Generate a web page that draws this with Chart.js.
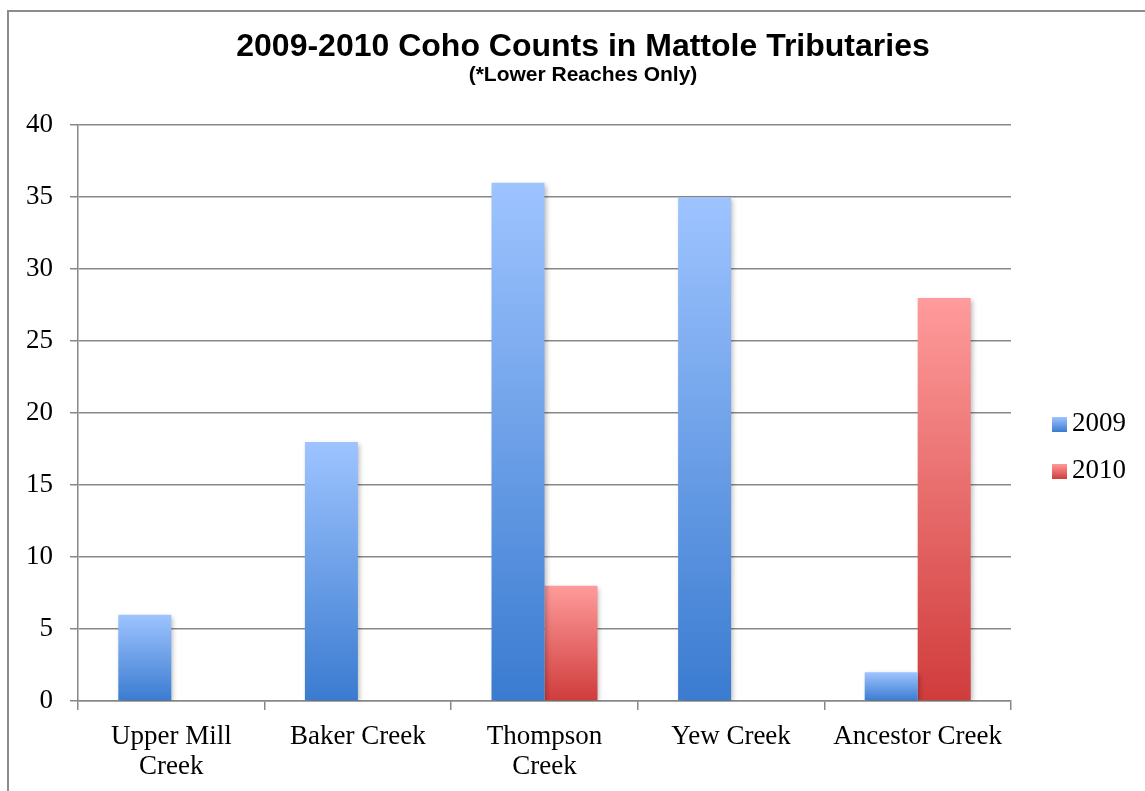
<!DOCTYPE html>
<html>
<head>
<meta charset="utf-8">
<script src="https://cdn.jsdelivr.net/npm/chart.js@4.4.1/dist/chart.umd.min.js"></script>
<style>
  html, body { margin: 0; padding: 0; background: #fff; overflow: hidden; }
  #wrap { position: relative; width: 1145px; height: 791px; overflow: hidden; }
  #frame { position: absolute; left: 7px; top: 10px; width: 1300px; height: 900px; border: 2px solid #8c8c8c; box-sizing: border-box; }
  #box { position: absolute; left: 0; top: 0; width: 1166px; height: 791px; }
</style>
</head>
<body>
<div id="wrap">
  <div id="frame"></div>
  <div id="box"><canvas id="cohoChart"></canvas></div>
</div>
<script>
// creeks and counts
const creeks = [['Upper Mill', 'Creek'], 'Baker Creek', ['Thompson', 'Creek'], 'Yew Creek', 'Ancestor Creek'];
const counts2009 = [6, 18, 36, 35, 2];
const counts2010 = [0, 0, 8, 0, 28];
const seriesNames = ['2009', '2010'];

const blueTop = '#9ec4ff', blueBottom = '#3a7bd0';
const redTop = '#ff9b9b', redBottom = '#d03c3c';

// vertical gradient for every bar, from its top down to zero
function barGradient(top, bottom) {
    return function (ctx) {
        const chart = ctx.chart;
        const y = chart.scales.y;
        if (!y || ctx.type !== 'data') return bottom;
        const y0 = y.getPixelForValue(ctx.raw);
        const y1 = y.getPixelForValue(0);
        if (!isFinite(y0) || !isFinite(y1) || y0 === y1) return bottom;
        const g = chart.ctx.createLinearGradient(0, y0, 0, y1);
        g.addColorStop(0, top);
        g.addColorStop(1, bottom);
        return g;
    };
}

// soft shadow behind the bars
const barShadow = {
    id: 'barShadow',
    beforeDatasetsDraw(chart) {
        const c = chart.ctx;
        c.save();
        c.shadowColor = 'rgba(0,0,0,0.28)';
        c.shadowBlur = 5;
        c.shadowOffsetX = 2;
        c.shadowOffsetY = 2;
    },
    afterDatasetsDraw(chart) {
        chart.ctx.restore();
    }
};

// legend on the right side
const sideLegend = {
    id: 'sideLegend',
    afterDraw(chart) {
        const c = chart.ctx;
        const cols = [[blueTop, blueBottom], [redTop, redBottom]];
        c.save();
        c.font = '27px "Liberation Serif", serif';
        c.textBaseline = 'middle';
        seriesNames.forEach((name, i) => {
            const bx = 1052, by = 417 + i * 47;
            const g = c.createLinearGradient(0, by, 0, by + 15);
            g.addColorStop(0, cols[i][0]);
            g.addColorStop(1, cols[i][1]);
            c.fillStyle = g;
            c.fillRect(bx, by, 15, 15);
            c.fillStyle = '#000';
            c.fillText(name, bx + 20, by + 7);
        });
        c.restore();
    }
};

const ctx = document.getElementById('cohoChart').getContext('2d');
new Chart(ctx, {
    type: 'bar',
    data: {
        labels: creeks,
        datasets: [
            { label: seriesNames[0], data: counts2009, backgroundColor: barGradient(blueTop, blueBottom), borderWidth: 0 },
            { label: seriesNames[1], data: counts2010, backgroundColor: barGradient(redTop, redBottom), borderWidth: 0 }
        ]
    },
    options: {
        responsive: true,
        maintainAspectRatio: false,
        animation: false,
        datasets: { bar: { categoryPercentage: 0.568, barPercentage: 1.0 } },
        layout: { padding: 0 },
        plugins: {
            legend: { display: false },
            tooltip: { enabled: false },
            title: {
                display: true,
                text: '2009-2010 Coho Counts in Mattole Tributaries',
                color: '#000',
                font: { family: '"Liberation Sans", Arial, sans-serif', size: 32, weight: 'bold', lineHeight: 1.1 },
                padding: { top: 30, bottom: 0 }
            },
            subtitle: {
                display: true,
                text: '(*Lower Reaches Only)',
                color: '#000',
                font: { family: '"Liberation Sans", Arial, sans-serif', size: 21, weight: 'bold', lineHeight: 1.0 },
                padding: { top: 0, bottom: 39 }
            }
        },
        scales: {
            x: {
                grid: { display: true, drawOnChartArea: false, drawTicks: true, tickLength: 9, color: '#888', lineWidth: 1.5 },
                border: { color: '#888', width: 1.5 },
                ticks: {
                    color: '#000',
                    padding: 12,
                    maxRotation: 0,
                    autoSkip: false,
                    font: { family: '"Liberation Serif", serif', size: 27, lineHeight: 1.1 }
                },
                afterFit(scale) { scale.height = 90; }
            },
            y: {
                min: 0,
                max: 40,
                ticks: {
                    stepSize: 5,
                    color: '#000',
                    padding: 17,
                    font: { family: '"Liberation Serif", serif', size: 27 }
                },
                grid: { color: '#888', lineWidth: 1.5, tickLength: 8 },
                border: { color: '#888', width: 1.5 },
                afterFit(scale) { scale.width = 78; }
            },
            // empty right axis that only keeps room for the legend
            side: {
                type: 'linear',
                position: 'right',
                ticks: { display: false },
                grid: { display: false, drawTicks: false },
                border: { display: false },
                afterFit(scale) { scale.width = 155; }
            }
        }
    },
    plugins: [barShadow, sideLegend]
});
</script>
</body>
</html>
